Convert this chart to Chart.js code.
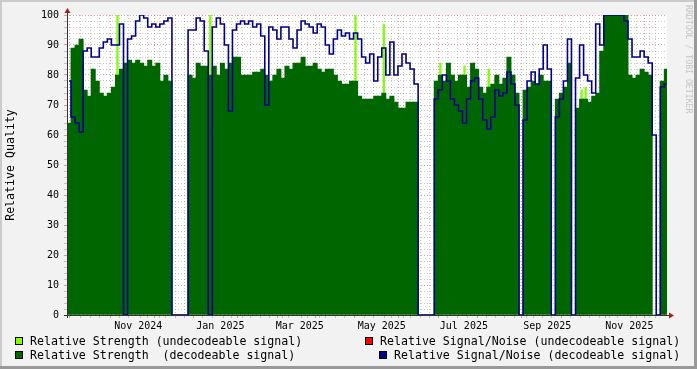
<!DOCTYPE html>
<html lang="en">
<head>
<meta charset="UTF-8">
<title>Relative Quality</title>
<script src="https://cdn.jsdelivr.net/npm/chart.js"></script>
<style>
  body { margin: 0; background: #f2f2f2; }
  canvas { display: block; }
</style>
</head>
<body>
<canvas id="quality" width="697" height="369"></canvas>
<script>
// days counted from 1 Nov 2024, one sample every 3 days
const firstSampleDay = -51.5;
const sampleStep = 3;
const axisStartDay = -53;
const axisEndDay = 393;

const strengthDecoded = [
  64, 89, 90, 92, 75, 73, 82, 78, 74, 73, 74, 76, 80, 82, 84, 85, 84, 85, 84, 83,
  85, 83, 84, 78, 80, 78, 0, 0, 0, 0, 80, 79, 84, 83, 83, 80, 83, 80, 84, 82,
  84, 86, 86, 80, 80, 80, 81, 81, 82, 80, 78, 80, 82, 79, 83, 82, 84, 84, 86, 83,
  83, 84, 82, 81, 82, 82, 80, 78, 77, 77, 78, 78, 73, 72, 72, 72, 73, 73, 74, 72,
  73, 71, 69, 69, 71, 71, 71, 0, 0, 0, 0, 78, 80, 78, 84, 80, 78, 80, 80, 76,
  84, 82, 76, 74, 76, 77, 80, 77, 79, 86, 80, 74, 0, 75, 76, 78, 77, 80, 78, 78,
  0, 72, 74, 76, 84, 0, 69, 72, 72, 71, 73, 74, 88, 100, 100, 100, 100, 100, 100, 80,
  79, 80, 82, 81, 80, 0, 0, 78, 82
];
const snrDecoded = [
  78, 66, 64, 61, 88, 89, 86, 86, 89, 91, 92, 90, 90, 97, 0, 92, 93, 98, 100, 99,
  96, 97, 96, 97, 98, 99, 0, 0, 0, 0, 95, 95, 99, 98, 88, 0, 96, 99, 97, 90,
  68, 95, 97, 98, 97, 98, 96, 97, 93, 70, 96, 95, 92, 96, 96, 92, 89, 95, 98, 97,
  96, 94, 97, 96, 90, 87, 92, 95, 93, 94, 92, 94, 92, 86, 84, 87, 78, 86, 89, 80,
  91, 80, 83, 87, 84, 82, 77, 0, 0, 0, 0, 72, 75, 80, 78, 72, 70, 68, 64, 72,
  78, 79, 72, 65, 62, 66, 75, 73, 74, 81, 77, 70, 0, 65, 78, 81, 77, 82, 90, 82,
  0, 66, 72, 78, 92, 0, 79, 90, 80, 78, 74, 97, 90, 100, 100, 100, 100, 100, 98, 92,
  86, 86, 88, 86, 84, 60, 0, 76, 77
];
// undecodeable strength only shows up as a few spikes (sample index -> value)
const strengthUndecodedAt = [12, 35, 71, 78, 92, 98, 104, 110, 127, 128];
const strengthUndecoded = [100, 100, 100, 97, 84, 83, 82, 80, 75, 76];

const monthLabels = ['Nov 2024', 'Jan 2025', 'Mar 2025', 'May 2025', 'Jul 2025', 'Sep 2025', 'Nov 2025'];
const monthLabelDays = [0, 61, 120, 181, 242, 304, 365];
const midMonthDays = [-47, -17, 14, 44, 75, 106, 134, 165, 195, 226, 256, 287, 318, 348, 379];

const GRID = 'rgba(120,120,120,0.40)';
const MGRID = 'rgba(170,50,50,0.45)';
const MONO = 'DejaVu Sans Mono';

const PLOT_W = 600; // 67 .. 667
const barPx = sampleStep * PLOT_W / (axisEndDay - axisStartDay);

const sampleDays = strengthDecoded.map((v, i) => firstSampleDay + i * sampleStep);

const rrdFrame = {
  id: 'rrdFrame',
  beforeDraw(chart) {
    const c = chart.ctx, a = chart.chartArea;
    c.save();
    c.fillStyle = '#f2f2f2';
    c.fillRect(0, 0, 697, 369);
    c.fillStyle = '#cbcbcb';
    c.fillRect(0, 0, 697, 2);
    c.fillRect(0, 0, 2, 369);
    c.fillStyle = '#999999';
    c.fillRect(0, 366, 697, 3);
    c.fillRect(694, 0, 3, 369);
    c.fillStyle = '#ffffff';
    c.fillRect(a.left, a.top, a.right - a.left, a.bottom - a.top);
    c.restore();
  },
  afterDraw(chart) {
    const c = chart.ctx, a = chart.chartArea;
    c.save();
    // axes
    c.strokeStyle = '#333';
    c.lineWidth = 1;
    c.beginPath();
    c.moveTo(a.left - 3, a.bottom + 0.5);
    c.lineTo(a.right + 3, a.bottom + 0.5);
    c.moveTo(a.left + 0.5, a.bottom + 3);
    c.lineTo(a.left + 0.5, a.top - 3);
    c.stroke();
    // arrows
    c.fillStyle = '#a02020';
    c.beginPath();
    c.moveTo(a.right + 2, a.bottom - 2.5);
    c.lineTo(a.right + 7, a.bottom + 0.5);
    c.lineTo(a.right + 2, a.bottom + 3.5);
    c.closePath();
    c.fill();
    c.beginPath();
    c.moveTo(a.left - 2.5, a.top - 2);
    c.lineTo(a.left + 0.5, a.top - 7);
    c.lineTo(a.left + 3.5, a.top - 2);
    c.closePath();
    c.fill();
    // y title
    c.fillStyle = '#000';
    c.font = '11.6px "' + MONO + '"';
    c.textAlign = 'center';
    c.textBaseline = 'middle';
    c.translate(11, (a.top + a.bottom) / 2);
    c.rotate(-Math.PI / 2);
    c.fillText('Relative Quality', 0, 0);
    c.restore();

    c.save();
    c.fillStyle = '#c4c4c4';
    c.font = '8.2px "' + MONO + '"';
    c.textAlign = 'left';
    c.textBaseline = 'middle';
    c.translate(688, 5);
    c.rotate(Math.PI / 2);
    c.fillText('RRDTOOL / TOBI OETIKER', 0, 0);
    c.restore();

    // legend
    const items = [
      { text: 'Relative Strength (undecodeable signal)', color: '#80ff00', x: 15, y: 341 },
      { text: 'Relative Signal/Noise (undecodeable signal)', color: '#ff0000', x: 365, y: 341 },
      { text: 'Relative Strength  (decodeable signal)', color: '#006600', x: 15, y: 355 },
      { text: 'Relative Signal/Noise (decodeable signal)', color: '#00008c', x: 379, y: 355 }
    ];
    c.save();
    c.font = '11.6px "' + MONO + '"';
    c.textBaseline = 'middle';
    items.forEach(it => {
      c.fillStyle = it.color;
      c.fillRect(it.x, it.y - 4, 8, 8);
      c.strokeStyle = '#000';
      c.lineWidth = 1;
      c.strokeRect(it.x + 0.5, it.y - 3.5, 7, 7);
      c.fillStyle = '#000';
      c.fillText(it.text, it.x + 15, it.y + 0.5);
    });
    c.restore();
  }
};

new Chart(document.getElementById('quality'), {
  type: 'bar',
  data: {
    datasets: [
      {
        type: 'line',
        label: 'Relative Signal/Noise (decodeable signal)',
        data: snrDecoded.map((v, i) => ({ x: sampleDays[i], y: v })),
        borderColor: '#00008c',
        borderWidth: 1.6,
        stepped: 'middle',
        pointRadius: 0,
        fill: false,
        order: 0
      },
      {
        label: 'Relative Strength  (decodeable signal)',
        data: strengthDecoded.map((v, i) => ({ x: sampleDays[i], y: v })),
        backgroundColor: '#006600',
        barThickness: barPx + 0.3,
        grouped: false,
        order: 1
      },
      {
        label: 'Relative Strength (undecodeable signal)',
        data: strengthUndecodedAt.map((s, k) => ({ x: sampleDays[s], y: strengthUndecoded[k] })),
        backgroundColor: '#80ff00',
        barThickness: 1.6,
        grouped: false,
        order: 2
      }
    ]
  },
  options: {
    responsive: false,
    animation: false,
    layout: { padding: { left: 0, top: 15, right: 30, bottom: 24 } },
    plugins: { legend: { display: false }, tooltip: { enabled: false } },
    scales: {
      x: {
        type: 'linear',
        min: axisStartDay,
        max: axisEndDay,
        offset: false,
        z: 1,
        border: { display: false, dash: [1, 2] },
        grid: {
          color: ctx => {
            const k = ctx.tick && ctx.tick.kind;
            return k === 'major' ? MGRID : k === 'minor' ? GRID : 'rgba(0,0,0,0)';
          },
          tickLength: 3,
          tickBorderDash: []
        },
        afterBuildTicks: axis => {
          const ticks = [];
          for (let d = -46; d <= axisEndDay; d += 7) {
            if (!midMonthDays.some(m => Math.abs(m - d) < 2)) ticks.push({ value: d, kind: 'minor' });
          }
          midMonthDays.forEach(d => ticks.push({ value: d, kind: 'major' }));
          monthLabelDays.forEach((d, i) => ticks.push({ value: d, kind: 'label', text: monthLabels[i] }));
          ticks.sort((p, q) => p.value - q.value);
          axis.ticks = ticks;
        },
        afterFit: axis => { axis.height = 30; },
        ticks: {
          autoSkip: false,
          maxRotation: 0,
          minRotation: 0,
          padding: 2,
          color: '#000',
          font: { family: MONO, size: 10 },
          callback: (value, index, ticks) => ticks[index].kind === 'label' ? ticks[index].text : ''
        }
      },
      y: {
        min: 0,
        max: 100,
        z: 1,
        border: { display: false, dash: [1, 2] },
        grid: {
          color: ctx => (ctx.tick && ctx.tick.value % 10 === 0) ? MGRID : GRID,
          tickLength: 3,
          tickBorderDash: []
        },
        afterFit: axis => { axis.width = 67; },
        ticks: {
          stepSize: 2,
          autoSkip: false,
          padding: 5,
          color: '#000',
          font: { family: MONO, size: 10 },
          callback: v => v % 10 === 0 ? String(v) : ''
        }
      }
    }
  },
  plugins: [rrdFrame]
});
</script>
</body>
</html>
